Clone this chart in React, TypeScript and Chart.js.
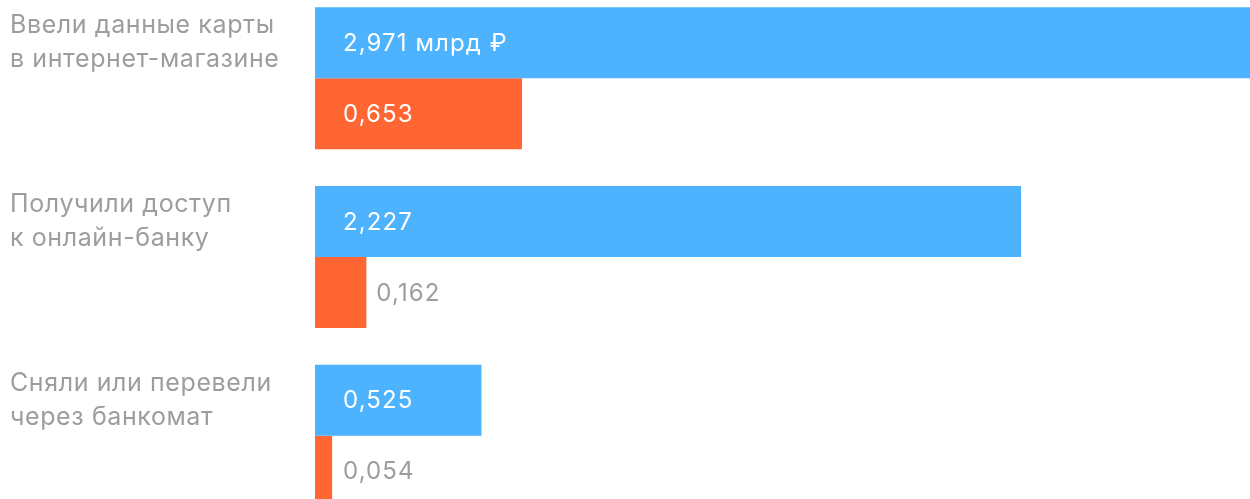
import React, { useEffect, useRef } from "react";
import { Chart, registerables } from "chart.js";

Chart.register(...registerables);

const categories: string[][] = [
  ["Ввели данные карты", "в интернет-магазине"],
  ["Получили доступ", "к онлайн-банку"],
  ["Сняли или перевели", "через банкомат"],
];
const attemptedValues = [2.971, 2.227, 0.525];
const stolenValues = [0.653, 0.162, 0.054];
const firstSuffix = " млрд ₽";

const BLUE = "#4db3ff";
const ORANGE = "#ff6633";
const GREY = "#9d9d9d";
const FONT = "Inter, 'Noto Sans', sans-serif";

const fmt = (v: number) => v.toFixed(3).replace(".", ",");

const labelsPlugin = {
  id: "customLabels",
  afterDatasetsDraw(chart: any) {
    const ctx = chart.ctx;
    ctx.save();
    chart.data.datasets.forEach((ds: any, di: number) => {
      const meta = chart.getDatasetMeta(di);
      meta.data.forEach((bar: any, i: number) => {
        const v = ds.data[i];
        let text = fmt(v);
        if (di === 0 && i === 0) text += firstSuffix;
        ctx.font = `24px ${FONT}`;
        (ctx as any).letterSpacing = "1.1px";
        ctx.textBaseline = "middle";
        ctx.textAlign = "left";
        const start = bar.base;
        const end = bar.x;
        const w = ctx.measureText(text).width;
        const insideX = start + 28;
        if (insideX + w + 10 < end) {
          ctx.fillStyle = "#ffffff";
          ctx.fillText(text, insideX, bar.y + 1);
        } else {
          ctx.fillStyle = GREY;
          ctx.fillText(text, Math.max(insideX, end + 10), bar.y + 1);
        }
      });
    });
    const meta0 = chart.getDatasetMeta(0);
    ctx.font = `25px ${FONT}`;
    (ctx as any).letterSpacing = "0.6px";
    ctx.fillStyle = GREY;
    ctx.textAlign = "left";
    ctx.textBaseline = "middle";
    const lh = 34;
    categories.forEach((lines, i) => {
      const cy = meta0.data[i].y;
      const top = cy - ((lines.length - 1) * lh) / 2;
      lines.forEach((ln, k) => ctx.fillText(ln, 10, top + k * lh));
    });
    ctx.restore();
  },
};

export default function App() {
  const ref = useRef<HTMLCanvasElement | null>(null);
  useEffect(() => {
    document.body.style.margin = "0";
    const chart = new Chart(ref.current!, {
      type: "bar",
      data: {
        labels: categories.map((c) => c.join(" ")),
        datasets: [
          {
            data: attemptedValues,
            backgroundColor: BLUE,
            borderWidth: 0,
            barPercentage: 1,
            categoryPercentage: 0.795,
          },
          {
            data: stolenValues,
            backgroundColor: ORANGE,
            borderWidth: 0,
            barPercentage: 1,
            categoryPercentage: 0.795,
          },
        ],
      },
      options: {
        indexAxis: "y",
        animation: false,
        responsive: false,
        maintainAspectRatio: false,
        layout: { padding: { left: 315, right: 0, top: 0, bottom: 0 } },
        plugins: { legend: { display: false }, tooltip: { enabled: false } },
        scales: {
          x: { display: false, min: 0, max: 2.971 },
          y: { display: false, offset: true },
        },
      },
      plugins: [labelsPlugin],
    });
    return () => chart.destroy();
  }, []);
  return (
    <div style={{ position: "fixed", left: 0, top: 0, width: 1250, height: 499, overflow: "hidden", background: "#fff" }}>
      <canvas ref={ref} width={1257} height={536} style={{ position: "absolute", left: 0, top: -11, width: 1257, height: 536 }} />
    </div>
  );
}
